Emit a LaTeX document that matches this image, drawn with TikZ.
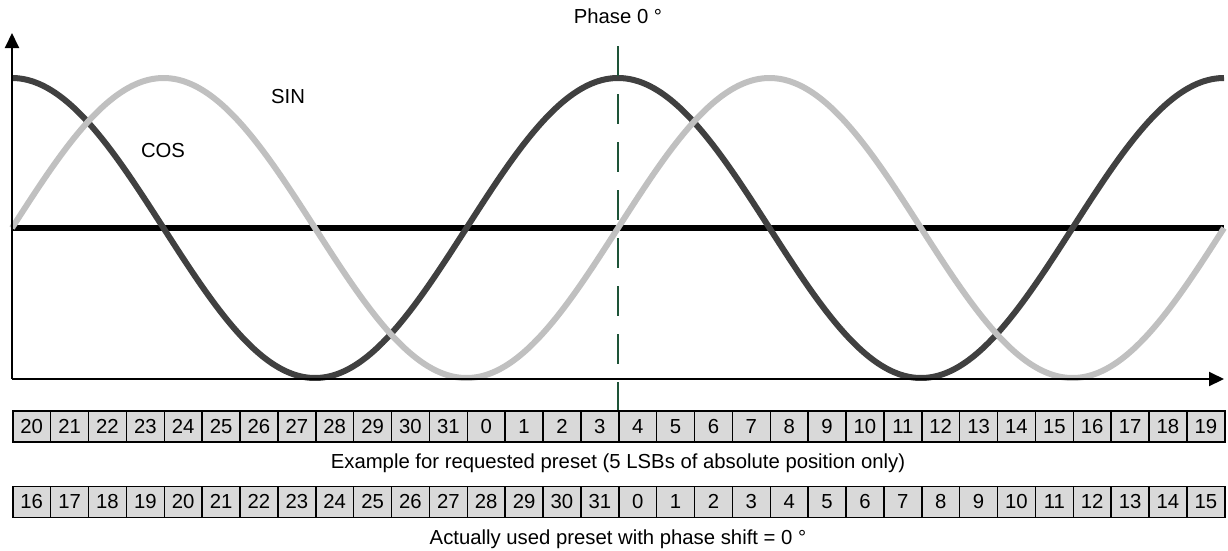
\documentclass[tikz,border=0pt]{standalone}
\usepackage{fontspec}
\setmainfont{Liberation Sans}
\usetikzlibrary{arrows.meta}
\definecolor{cosgray}{RGB}{64,64,64}
\definecolor{singray}{RGB}{192,192,192}
\definecolor{boxfill}{RGB}{217,217,217}
\definecolor{phasegreen}{RGB}{30,84,56}
\tikzset{
  axis/.style={line width=2pt, -{Triangle[length=15pt,width=14pt]}},
  wave/.style={line width=6pt},
  zeroline/.style={line width=6pt, black},
  cell/.style={draw=black, line width=1.5pt, fill=boxfill, minimum width=37.875pt, minimum height=31pt, inner sep=0pt, anchor=north west},
  phaseline/.style={phasegreen, line width=1.5pt, dash pattern=on 30pt off 18pt},
  lbl/.style={inner sep=0pt}
}
\begin{document}
\begin{tikzpicture}[x=1pt,y=-1pt,font=\fontsize{20.3}{23}\selectfont]
\useasboundingbox (0,0) rectangle (1228,550);
\coordinate (O) at (12,379);
\coordinate (ytop) at (12,33);
\coordinate (xend) at (1224,379);
\coordinate (zl) at (12,228);
\coordinate (zr) at (1224,228);
\coordinate (ph1) at (618,46);
\coordinate (ph2) at (618,410);
% zero line
\draw[zeroline] (zl) -- (zr);
% waves
\draw[wave, cosgray] plot[variable=\t, domain=0:1212, samples=243, smooth] ({12+\t},{228-150*cos(\t/606*360)});
\draw[wave, singray] plot[variable=\t, domain=0:1212, samples=243, smooth] ({12+\t},{228-150*sin(\t/606*360)});
% axes
\draw[axis] (O) -- (ytop);
\draw[axis] (O) -- (xend);
% cells
\foreach \i in {0,...,31}{
  \pgfmathtruncatemacro\la{mod(\i+20,32)}
  \pgfmathtruncatemacro\lb{mod(\i+16,32)}
  \node[cell] (ra\i) at ({12+37.875*\i},410) {\la};
  \node[cell] (rb\i) at ({12+37.875*\i},485.5) {\lb};
}
% phase line
\draw[phaseline] (ph1) -- (ph2);
% labels
\node[lbl] (phase) at (618,16) {Phase 0 °};
\node[lbl] (sin) at (288,97) {SIN};
\node[lbl] (cos) at (163,151) {COS};
\node[lbl] (cap1) at (618,463) {Example for requested preset (5 LSBs of absolute position only)};
\node[lbl] (cap2) at (618,539) {Actually used preset with phase shift = 0 °};
\end{tikzpicture}
\end{document}
